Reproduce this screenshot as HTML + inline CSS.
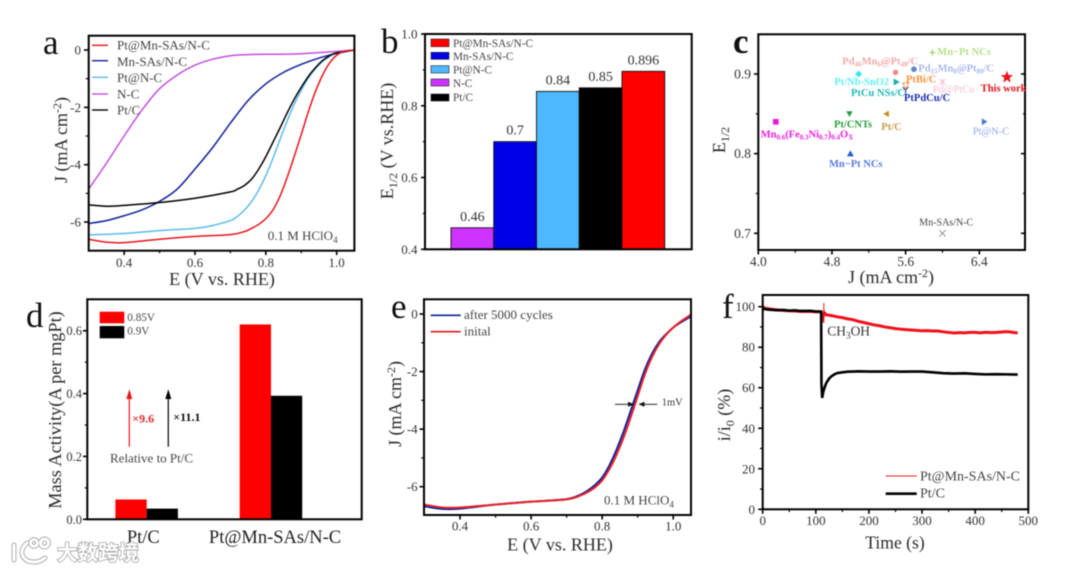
<!DOCTYPE html>
<html lang="en">
<head>
<meta charset="utf-8">
<title>Electrocatalyst performance panels</title>
<style>
html,body{margin:0;padding:0;background:#fff;}
body{width:1080px;height:572px;overflow:hidden;}
svg{display:block;filter:blur(0.55px);}
text{font-family:"Liberation Serif","Noto Serif CJK SC",serif;fill:#2b2b2b;}
.frame{fill:none;stroke:#000;stroke-width:2;}
.letter{font-size:35px;fill:#111;}
.title{font-size:18px;}
.leg{font-size:13px;fill:#444;}
.pt{font-size:10.5px;font-weight:bold;}
</style>
</head>
<body>
<svg id="fig" xmlns="http://www.w3.org/2000/svg" width="1080" height="572" viewBox="0 0 1080 572">
  <rect x="0" y="0" width="1080" height="572" fill="#fff"/>

  <g id="pa">
    <text class="letter" x="43" y="54">a</text>
    <g id="pa-marks"></g>
    <rect class="frame" x="88.7" y="35.7" width="265.7" height="215"/>
    <g id="pa-axes"></g>
    <text class="title" x="222" y="285" text-anchor="middle">E (V vs. RHE)</text>
    <text class="title" transform="translate(67 140) rotate(-90)" text-anchor="middle">J (mA cm<tspan font-size="12" dy="-6">-2</tspan><tspan dy="6">)</tspan></text>
    <g>
      <line x1="92" x2="108" y1="45.3" y2="45.3" stroke="#e8141c" stroke-width="1.4"/>
      <text class="leg" x="117" y="49.5">Pt@Mn-SAs/N-C</text>
      <line x1="92" x2="108" y1="60.7" y2="60.7" stroke="#10209a" stroke-width="1.4"/>
      <text class="leg" x="117" y="66">Mn-SAs/N-C</text>
      <line x1="92" x2="108" y1="77.3" y2="77.3" stroke="#5bbcea" stroke-width="1.4"/>
      <text class="leg" x="117" y="82">Pt@N-C</text>
      <line x1="92" x2="108" y1="94" y2="94" stroke="#c24fe0" stroke-width="1.4"/>
      <text class="leg" x="117" y="98.5">N-C</text>
      <line x1="92" x2="108" y1="110" y2="110" stroke="#000" stroke-width="1.4"/>
      <text class="leg" x="117" y="114.5">Pt/C</text>
    </g>
    <text class="leg" x="267.7" y="240">0.1 M HClO<tspan font-size="9" dy="3">4</tspan></text>
  </g>

  <g id="pb">
    <text class="letter" x="381" y="53">b</text>
    <g id="pb-marks"></g>
    <rect class="frame" x="425" y="34" width="266.7" height="215.3"/>
    <g id="pb-axes"></g>
    <text class="title" transform="translate(393 141) rotate(-90)" text-anchor="middle">E<tspan font-size="12" dy="4">1/2</tspan><tspan dy="-4"> (V vs.RHE)</tspan></text>
    <g>
      <rect x="431" y="39" width="18" height="7.7" fill="#ff0000" stroke="#222" stroke-width=".6"/>
      <text class="leg" style="font-size:11.2px" x="453" y="47">Pt@Mn-SAs/N-C</text>
      <rect x="431" y="52.3" width="18" height="7" fill="#0000e6" stroke="#222" stroke-width=".6"/>
      <text class="leg" style="font-size:11.2px" x="453" y="60">Mn-SAs/N-C</text>
      <rect x="431" y="65.7" width="18" height="7.3" fill="#4db8ff" stroke="#222" stroke-width=".6"/>
      <text class="leg" style="font-size:11.2px" x="453" y="73.5">Pt@N-C</text>
      <rect x="431" y="79" width="18" height="7" fill="#cc33ff" stroke="#222" stroke-width=".6"/>
      <text class="leg" style="font-size:11.2px" x="453" y="87">N-C</text>
      <rect x="431" y="94" width="18" height="7" fill="#000" stroke="#222" stroke-width=".6"/>
      <text class="leg" style="font-size:11.2px" x="453" y="101">Pt/C</text>
    </g>
  </g>

  <g id="pc">
    <text class="letter" font-weight="bold" x="733" y="53">c</text>
    <g id="pc-marks"></g>
    <rect class="frame" x="758.3" y="34.3" width="266.7" height="215.7"/>
    <g id="pc-axes"></g>
    <text class="title" x="891" y="283" text-anchor="middle">J (mA cm<tspan font-size="12" dy="-6">-2</tspan><tspan dy="6">)</tspan></text>
    <text class="title" transform="translate(725 140) rotate(-90)" text-anchor="middle">E<tspan font-size="12" dy="4">1/2</tspan></text>
    <g>
      <text class="pt" style="fill:#f4a9a9" x="842.3" y="64.3">Pd<tspan font-size="7" dy="2">46</tspan><tspan dy="-2">Mn</tspan><tspan font-size="7" dy="2">6</tspan><tspan dy="-2">@Pt</tspan><tspan font-size="7" dy="2">48</tspan><tspan dy="-2">/C</tspan></text>
      <text class="pt" style="fill:#b5e08a" x="937.3" y="55">Mn−Pt NCs</text>
      <text class="pt" style="fill:#a9b8f0" x="918.3" y="71.7">Pd<tspan font-size="7" dy="2">15</tspan><tspan dy="-2">Mn</tspan><tspan font-size="7" dy="2">8</tspan><tspan dy="-2">@Pt</tspan><tspan font-size="7" dy="2">80</tspan><tspan dy="-2">/C</tspan></text>
      <text class="pt" style="fill:#5ff0f0" x="834.3" y="85">Pt/Nb-SnO2</text>
      <text class="pt" style="fill:#f7933d" x="906" y="82.7">PtBi/C</text>
      <text class="pt" style="fill:#f5bcd8;font-weight:normal" x="932.7" y="92.7">Pd@PtCu</text>
      <text class="pt" style="fill:#e0141c" x="980.7" y="91.7">This work</text>
      <text class="pt" style="fill:#22b8b8" x="851" y="96">PtCu NSs/C</text>
      <text class="pt" style="fill:#1c2db0" x="904" y="101">PtPdCu/C</text>
      <text class="pt" style="fill:#2a9d3a" x="834" y="127.3">Pt/CNTs</text>
      <text class="pt" style="fill:#c89a4a" x="881.3" y="130">Pt/C</text>
      <text class="pt" style="fill:#e81fe0" x="760.7" y="137.3">Mn<tspan font-size="7" dy="2">0.6</tspan><tspan dy="-2">(Fe</tspan><tspan font-size="7" dy="2">0.3</tspan><tspan dy="-2">Ni</tspan><tspan font-size="7" dy="2">0.7</tspan><tspan dy="-2">)</tspan><tspan font-size="7" dy="2">0.4</tspan><tspan dy="-2">O</tspan><tspan font-size="7" dy="2">X</tspan></text>
      <text class="pt" style="fill:#8fa8f0;font-weight:normal" x="972.7" y="134.3">Pt@N-C</text>
      <text class="pt" style="fill:#5a7ae0" x="829" y="167">Mn−Pt NCs</text>
      <text class="pt" style="fill:#444;font-weight:normal;font-size:10px" x="919.3" y="225.7">Mn-SAs/N-C</text>
    </g>
  </g>

  <g id="pd">
    <g id="pd-marks"></g>
    <rect class="frame" x="87.3" y="299.3" width="274.4" height="220"/>
    <g id="pd-axes"></g>
    <text class="letter" x="26" y="327">d</text>
    <text class="title" style="font-size:18.3px" transform="translate(61 410) rotate(-90)" text-anchor="middle">Mass Activity(A per mgPt)</text>
    <g>
      <rect x="99.7" y="311.7" width="24.6" height="11.6" fill="#ff0000"/>
      <text class="leg" style="font-size:11.2px" x="127.3" y="321">0.85V</text>
      <rect x="99.7" y="326" width="24.6" height="12.3" fill="#000"/>
      <text class="leg" style="font-size:11.2px" x="127.3" y="334.5">0.9V</text>
    </g>
    <g>
      <line x1="129.3" x2="129.3" y1="446.7" y2="396" stroke="#f0141c" stroke-width="1.2"/>
      <polygon points="129.3,389.3 126.3,399 132.3,399" fill="#f0141c"/>
      <line x1="168.3" x2="168.3" y1="446.7" y2="396" stroke="#000" stroke-width="1.2"/>
      <polygon points="168.3,389.3 165.3,399 171.3,399" fill="#000"/>
      <text style="fill:#e8252c;font-size:12px;font-weight:bold" x="132.3" y="422.3">×9.6</text>
      <text style="fill:#111;font-size:12px;font-weight:bold" x="173.3" y="421">×11.1</text>
      <text class="leg" x="110" y="462.7">Relative to Pt/C</text>
    </g>
  </g>

  <g id="pe">
    <g id="pe-marks"></g>
    <rect class="frame" x="424" y="299.3" width="267" height="215.7"/>
    <g id="pe-axes"></g>
    <text class="letter" x="391" y="318">e</text>
    <text class="title" x="560" y="550.7" text-anchor="middle">E (V vs. RHE)</text>
    <text class="title" transform="translate(401 404) rotate(-90)" text-anchor="middle">J (mA cm<tspan font-size="12" dy="-6">-2</tspan><tspan dy="6">)</tspan></text>
    <g>
      <line x1="430.7" x2="460.7" y1="315.3" y2="315.3" stroke="#10209a" stroke-width="1.6"/>
      <text class="leg" x="464" y="319">after 5000 cycles</text>
      <line x1="430.7" x2="460.7" y1="331.7" y2="331.7" stroke="#e8141c" stroke-width="1.6"/>
      <text class="leg" x="464" y="335.5">inital</text>
    </g>
    <text class="leg" x="604" y="504.3">0.1 M HClO<tspan font-size="9" dy="3">4</tspan></text>
    <g>
      <line x1="615" x2="630" y1="404.3" y2="404.3" stroke="#111" stroke-width=".9"/>
      <polygon points="634.2,404.3 628,401.8 628,406.8" fill="#111"/>
      <line x1="642" x2="657.3" y1="404.3" y2="404.3" stroke="#111" stroke-width=".9"/>
      <polygon points="638.4,404.3 644.5,401.8 644.5,406.8" fill="#111"/>
      <text style="font-size:10.5px;fill:#333" x="661.7" y="405.7">1mV</text>
    </g>
  </g>

  <g id="pf">
    <g id="pf-marks"></g>
    <rect class="frame" x="762.7" y="295" width="265.6" height="214.3"/>
    <g id="pf-axes"></g>
    <text class="letter" x="722" y="318">f</text>
    <text class="title" style="font-size:17.6px" x="895" y="548.3" text-anchor="middle">Time (s)</text>
    <text class="title" transform="translate(730 415) rotate(-90)" text-anchor="middle">i/i<tspan font-size="12" dy="4">0</tspan><tspan dy="-4"> (%)</tspan></text>
    <text style="font-size:13.5px;fill:#333" x="827.3" y="335.7">CH<tspan font-size="9" dy="3">3</tspan><tspan dy="-3">OH</tspan></text>
    <g>
      <line x1="885.7" x2="916.7" y1="476" y2="476" stroke="#e8141c" stroke-width="1"/>
      <text class="leg" style="font-size:14px" x="920" y="480.5">Pt@Mn-SAs/N-C</text>
      <line x1="885.7" x2="916.7" y1="493.7" y2="493.7" stroke="#000" stroke-width="2.6"/>
      <text class="leg" style="font-size:14px" x="920" y="497.5">Pt/C</text>
    </g>
  </g>

  <g>
    <g fill="none" stroke="#b4b4b4" stroke-width="5" stroke-linecap="round">
      <path d="M14 545 V560 M27 543 C20 549 20 557 28 561 C34 563 40 562 45 558"/>
      <circle cx="34" cy="543" r="3.4"/>
      <circle cx="44.5" cy="543" r="4"/>
    </g>
    <g fill="none" stroke="#fff" stroke-width="2.8" stroke-linecap="round">
      <path d="M14 545 V560 M27 543 C20 549 20 557 28 561 C34 563 40 562 45 558"/>
      <circle cx="34" cy="543" r="3.4"/>
      <circle cx="44.5" cy="543" r="4"/>
    </g>
    <text x="57" y="560" style="font-family:'Liberation Sans','Noto Sans CJK SC',sans-serif;font-size:20.5px;font-weight:bold;fill:#fff;stroke:#a8a8a8;stroke-width:1.6px;paint-order:stroke">大数跨境</text>
  </g>
</svg>

<script>
// ---------- Panel a data ----------
const aXTicks = [0.4, 0.6, 0.8, 1.0];
const aXLabels = ['0.4', '0.6', '0.8', '1.0'];
const aYTicks = [0, -2, -4, -6];
const aYLabels = ['0', '-2', '-4', '-6'];
const aPtMnE = [0.3,0.35,0.4,0.5,0.6,0.7,0.74,0.76,0.78,0.8,0.82,0.84,0.86,0.88,0.9,0.92,0.94,0.96,0.98,1.0,1.02,1.05];
const aPtMnJ = [-6.6,-6.7,-6.72,-6.6,-6.5,-6.44,-6.33,-6.22,-6.08,-5.88,-5.58,-5.1,-4.45,-3.72,-2.95,-2.15,-1.45,-0.88,-0.45,-0.18,-0.05,0];
const aPtNE = [0.3,0.4,0.5,0.6,0.65,0.7,0.72,0.74,0.76,0.78,0.8,0.82,0.84,0.86,0.88,0.9,0.92,0.94,0.96,0.98,1.0,1.05];
const aPtNJ = [-6.45,-6.4,-6.3,-6.22,-6.12,-5.95,-5.8,-5.58,-5.28,-4.88,-4.38,-3.78,-3.12,-2.48,-1.9,-1.4,-0.98,-0.65,-0.4,-0.22,-0.1,0];
const aPtCE = [0.3,0.35,0.4,0.5,0.6,0.7,0.72,0.74,0.76,0.78,0.8,0.82,0.84,0.86,0.88,0.9,0.92,0.94,0.96,0.98,1.0,1.05];
const aPtCJ = [-5.4,-5.45,-5.42,-5.32,-5.17,-4.95,-4.85,-4.72,-4.5,-4.15,-3.72,-3.22,-2.72,-2.2,-1.72,-1.3,-0.92,-0.62,-0.37,-0.2,-0.1,0];
const aMnE = [0.3,0.35,0.4,0.45,0.5,0.55,0.6,0.65,0.7,0.75,0.8,0.85,0.9,0.95,1.0,1.05];
const aMnJ = [-6.05,-5.95,-5.78,-5.58,-5.28,-4.85,-4.15,-3.4,-2.55,-1.76,-1.18,-0.78,-0.5,-0.28,-0.12,0];
const aNE = [0.3,0.35,0.4,0.45,0.5,0.55,0.6,0.65,0.7,0.75,0.8,0.9,1.0,1.05];
const aNJ = [-4.85,-3.95,-3.0,-2.1,-1.35,-0.87,-0.53,-0.32,-0.2,-0.16,-0.15,-0.13,-0.05,0];

// ---------- Panel b data ----------
const bCategories = ['N-C', 'Mn-SAs/N-C', 'Pt@N-C', 'Pt/C', 'Pt@Mn-SAs/N-C'];
const bValues = [0.46, 0.7, 0.84, 0.85, 0.896];
const bPrinted = ['0.46', '0.7', '0.84', '0.85', '0.896'];
const bYTicks = [0.4, 0.6, 0.8, 1.0];
const bYLabels = ['0.4', '0.6', '0.8', '1.0'];

// ---------- Panel c data ----------
const cNames = ['this-work','pt-n','mn-sas','pd-ptcu','mn-pt-high','pd15','pd46','pt-nb','ptcu','ptbi','ptpdcu','pt-cnts','ptc','mn-oxide','mn-pt-low'];
const cJ = [6.70,6.45,6.0,6.0,5.89,5.69,5.49,5.09,5.5,5.6,5.6,4.99,5.39,4.19,5.0];
const cE = [0.896,0.84,0.7,0.89,0.927,0.906,0.902,0.9,0.89,0.885,0.88,0.85,0.85,0.84,0.8];
const cXTicks = [4.0, 4.8, 5.6, 6.4];
const cXLabels = ['4.0', '4.8', '5.6', '6.4'];
const cYTicks = [0.7, 0.8, 0.9];
const cYLabels = ['0.7', '0.8', '0.9'];

// ---------- Panel d data ----------
const dCategories = ['Pt/C', 'Pt@Mn-SAs/N-C'];
const dSeries085 = [0.063, 0.62];
const dSeries09 = [0.034, 0.393];
const dYTicks = [0, 0.2, 0.4, 0.6];
const dYLabels = ['0.0', '0.2', '0.4', '0.6'];

// ---------- Panel e data ----------
const eXTicks = [0.4, 0.6, 0.8, 1.0];
const eXLabels = ['0.4', '0.6', '0.8', '1.0'];
const eYTicks = [0, -2, -4, -6];
const eYLabels = ['0', '-2', '-4', '-6'];
const eInitE = [0.3,0.35,0.4,0.5,0.6,0.7,0.74,0.76,0.78,0.8,0.82,0.84,0.86,0.88,0.9,0.92,0.94,0.96,0.98,1.0,1.02,1.05];
const eInitJ = [-6.62,-6.72,-6.72,-6.62,-6.52,-6.44,-6.3,-6.18,-6.02,-5.78,-5.4,-4.9,-4.3,-3.6,-2.85,-2.1,-1.5,-1.05,-0.72,-0.47,-0.27,-0.02];
const eAfterE = [0.3,0.35,0.4,0.5,0.6,0.7,0.74,0.76,0.78,0.8,0.82,0.84,0.86,0.88,0.9,0.92,0.94,0.96,0.98,1.0,1.02,1.05];
const eAfterJ = [-6.68,-6.77,-6.76,-6.62,-6.52,-6.43,-6.27,-6.13,-5.94,-5.68,-5.27,-4.73,-4.1,-3.38,-2.65,-1.94,-1.39,-0.98,-0.7,-0.47,-0.3,-0.08];

// ---------- Panel f data ----------
const fXTicks = [0, 100, 200, 300, 400, 500];
const fXLabels = ['0', '100', '200', '300', '400', '500'];
const fYTicks = [0, 20, 40, 60, 80, 100];
const fYLabels = ['0', '20', '40', '60', '80', '100'];
const fRedT = [0,5,10,20,30,40,50,60,70,80,90,100,110,113,116,120,130,140,150,160,170,180,190,200,210,220,230,240,250,260,270,280,290,300,310,320,330,340,350,360,370,380,390,400,410,420,430,440,450,460,470,480];
const fRedV = [100,99.2,99,98.6,98.4,98.1,98,97.9,97.7,97.7,97.6,97.5,97.5,94.5,97,96,95.6,95,94.6,94,93.6,92.8,92.2,91.6,91,90.6,90,89.6,89.2,88.9,88.7,88.5,88.3,88.1,88.2,88,88,87.6,87.3,87,87.2,87.1,87.3,87.3,87.1,87.4,87.2,87.3,87.5,87.7,87.4,87];
const fBlackT = [0,10,20,30,40,50,60,70,80,90,100,108,110,110.6,112,114,117,120,125,130,135,140,150,160,170,180,200,220,240,260,280,300,320,340,360,380,400,420,440,460,480];
const fBlackV = [99,98.6,98.4,98.2,98.4,98,98.2,97.9,97.9,98,97.6,97.6,97.5,62,55,58,60.5,62.5,64.5,65.8,66.6,67.2,67.6,67.9,68,68.1,68,68,68.1,67.9,68,68,67.6,67.2,67,67.1,66.8,66.6,66.7,66.6,66.5];
const fSpikeT = [115, 115];
const fSpikeV = [92, 101.8];

// ---------- helpers ----------
const NS = 'http://www.w3.org/2000/svg';
function make(parent, tag, attrs, txt) {
  const el = document.createElementNS(NS, tag);
  for (const k in attrs) el.setAttribute(k, attrs[k]);
  if (txt !== undefined) el.textContent = txt;
  parent.appendChild(el);
  return el;
}
function scale(d0, d1, r0, r1) { return v => r0 + (v - d0) * (r1 - r0) / (d1 - d0); }
function smoothPath(xs, ys, sx, sy) {
  const p = xs.map((x, i) => [sx(x), sy(ys[i])]);
  let d = 'M' + p[0][0].toFixed(2) + ' ' + p[0][1].toFixed(2);
  for (let i = 0; i < p.length - 1; i++) {
    const a = p[Math.max(i - 1, 0)], b = p[i], c = p[i + 1], e = p[Math.min(i + 2, p.length - 1)];
    const c1x = b[0] + (c[0] - a[0]) / 6, c1y = b[1] + (c[1] - a[1]) / 6;
    const c2x = c[0] - (e[0] - b[0]) / 6, c2y = c[1] - (e[1] - b[1]) / 6;
    d += 'C' + c1x.toFixed(2) + ' ' + c1y.toFixed(2) + ' ' + c2x.toFixed(2) + ' ' + c2y.toFixed(2) + ' ' + c[0].toFixed(2) + ' ' + c[1].toFixed(2);
  }
  return d;
}
function straightPath(xs, ys, sx, sy) {
  return xs.map((x, i) => (i ? 'L' : 'M') + sx(x).toFixed(2) + ' ' + sy(ys[i]).toFixed(2)).join('');
}
function drawXTicks(g, prefix, ticks, labels, sx, yBase, labelY, size) {
  ticks.forEach((t, i) => {
    const tick = make(g, 'line', {x1: sx(t), x2: sx(t), y1: yBase, y2: yBase + 4, stroke: '#000', 'stroke-width': 1.6});
    
    
    const lab = make(g, 'text', {x: sx(t), y: labelY, 'text-anchor': 'middle', style: 'font-size:' + size + 'px;fill:#333'}, labels[i]);
    
    
  });
}
function drawYTicks(g, prefix, ticks, labels, sy, xBase, labelX, size) {
  ticks.forEach((t, i) => {
    const tick = make(g, 'line', {x1: xBase - 4, x2: xBase, y1: sy(t), y2: sy(t), stroke: '#000', 'stroke-width': 1.6});
    
    
    const lab = make(g, 'text', {x: labelX, y: sy(t) + 4.5, 'text-anchor': 'end', style: 'font-size:' + size + 'px;fill:#333'}, labels[i]);
    
    
  });
}
function drawMinorX(g, prefix, ticks, sx, yBase) {
  ticks.forEach(t => {
    const m = make(g, 'line', {x1: sx(t), x2: sx(t), y1: yBase, y2: yBase + 2.2, stroke: '#000', 'stroke-width': 1.2});
    
    
  });
}
function drawMinorY(g, prefix, ticks, sy, xBase) {
  ticks.forEach(t => {
    const m = make(g, 'line', {x1: xBase - 2.2, x2: xBase, y1: sy(t), y2: sy(t), stroke: '#000', 'stroke-width': 1.2});
    
    
  });
}
function midpoints(arr) { return arr.slice(1).map((v, i) => (v + arr[i]) / 2); }

// ---------- Panel a ----------
const ax = scale(0.3, 1.05, 88.7, 354.4), ay = scale(0, -7, 50, 250.7);
const paMarks = document.getElementById('pa-marks'), paAxes = document.getElementById('pa-axes');
[['curve-n-c', aNE, aNJ, '#c24fe0'], ['curve-mn-sas', aMnE, aMnJ, '#10209a'], ['curve-pt-n', aPtNE, aPtNJ, '#5bbcea'], ['curve-pt-c', aPtCE, aPtCJ, '#000'], ['curve-pt-mn', aPtMnE, aPtMnJ, '#e8141c']].forEach(s => {
  const c = make(paMarks, 'path', {d: smoothPath(s[1], s[2], ax, ay), fill: 'none', stroke: s[3], 'stroke-width': 1.5});
  
  
});
drawXTicks(paAxes, 'a', aXTicks, aXLabels, ax, 251, 267, 13);
drawYTicks(paAxes, 'a', aYTicks, aYLabels, ay, 88, 81, 13);
drawMinorX(paAxes, 'a', midpoints(aXTicks), ax, 251);
drawMinorY(paAxes, 'a', midpoints(aYTicks), ay, 88);

// ---------- Panel b ----------
const by = scale(0.4, 1.0, 249.3, 34);
const bBarX = i => 451 + i * 42.75;
const bFills = {'N-C': '#cc33ff', 'Mn-SAs/N-C': '#0000e6', 'Pt@N-C': '#4db8ff', 'Pt/C': '#000', 'Pt@Mn-SAs/N-C': '#ff0000'};
const pbMarks = document.getElementById('pb-marks'), pbAxes = document.getElementById('pb-axes');
bCategories.forEach((c, i) => {
  const r = make(pbMarks, 'rect', {x: bBarX(i), y: by(bValues[i]), width: 42.75, height: by(0.4) - by(bValues[i]), fill: bFills[c], stroke: '#111', 'stroke-width': 0.9});
  
  
  const t = make(pbMarks, 'text', {x: bBarX(i) + 21.4, y: by(bValues[i]) - 7, 'text-anchor': 'middle', style: 'font-size:14px;fill:#333'}, bPrinted[i]);
  
  
});
drawYTicks(pbAxes, 'b', bYTicks, bYLabels, by, 425, 417.5, 13);
drawMinorY(pbAxes, 'b', midpoints(bYTicks), by, 425);

// ---------- Panel c ----------
const cx = scale(4.0, 6.4, 758.3, 979.3), cy = scale(0.7, 0.9, 233.3, 74);
const cStyle = {
  'this-work': ['star', '#e8141c', 6.5], 'pt-n': ['flag', '#4a78d8', 3.5], 'mn-sas': ['cross', '#777', 3.2],
  'pd-ptcu': ['aster', '#f5bcd8', 3.2], 'mn-pt-high': ['plus', '#8cc850', 3], 'pd15': ['circle', '#5f86c8', 2.8],
  'pd46': ['hex', '#f08a8a', 3], 'pt-nb': ['diamond', '#30e8e8', 3.4], 'ptcu': ['right', '#10b0b0', 3.4],
  'ptbi': ['down-open', '#f7933d', 3], 'ptpdcu': ['y', '#2a3ab0', 3], 'pt-cnts': ['down', '#2a9d3a', 3.2],
  'ptc': ['left', '#c8901e', 3.2], 'mn-oxide': ['square', '#f010e0', 2.8], 'mn-pt-low': ['up', '#2060d0', 3.4]
};
function drawMarker(g, shape, x, y, color, r) {
  if (shape === 'square') return make(g, 'rect', {x: x - r, y: y - r, width: 2 * r, height: 2 * r, fill: color});
  if (shape === 'circle') return make(g, 'circle', {cx: x, cy: y, r: r, fill: color});
  if (shape === 'cross') return make(g, 'path', {d: `M${x-r} ${y-r}L${x+r} ${y+r}M${x-r} ${y+r}L${x+r} ${y-r}`, stroke: color, 'stroke-width': .8, fill: 'none'});
  if (shape === 'plus') return make(g, 'path', {d: `M${x-r} ${y}H${x+r}M${x} ${y-r}V${y+r}`, stroke: color, 'stroke-width': 1, fill: 'none'});
  if (shape === 'aster') return make(g, 'path', {d: `M${x-r} ${y-r}L${x+r} ${y+r}M${x-r} ${y+r}L${x+r} ${y-r}M${x} ${y-r}V${y+r}`, stroke: color, 'stroke-width': .9, fill: 'none'});
  if (shape === 'y') return make(g, 'path', {d: `M${x-r} ${y-r}L${x} ${y}L${x+r} ${y-r}M${x} ${y}V${y+r+1}`, stroke: color, 'stroke-width': 1, fill: 'none'});
  if (shape === 'down-open') return make(g, 'path', {d: `M${x-r} ${y-r}H${x+r}L${x} ${y+r}Z`, stroke: color, 'stroke-width': .9, fill: 'none'});
  let pts;
  if (shape === 'up') pts = [[x, y - r], [x + r, y + r * .8], [x - r, y + r * .8]];
  if (shape === 'down') pts = [[x, y + r], [x + r, y - r * .8], [x - r, y - r * .8]];
  if (shape === 'left') pts = [[x - r, y], [x + r * .8, y - r], [x + r * .8, y + r]];
  if (shape === 'right') pts = [[x + r, y], [x - r * .8, y - r], [x - r * .8, y + r]];
  if (shape === 'flag') pts = [[x + r, y], [x - r * .6, y - r], [x - r * .6, y + r]];
  if (shape === 'diamond') pts = [[x, y - r], [x + r, y], [x, y + r], [x - r, y]];
  if (shape === 'hex') pts = [0, 1, 2, 3, 4, 5].map(k => [x + r * Math.sin(k * Math.PI / 3), y - r * Math.cos(k * Math.PI / 3)]);
  if (shape === 'star') pts = [0, 1, 2, 3, 4, 5, 6, 7, 8, 9].map(k => { const q = k % 2 ? r * .42 : r; return [x + q * Math.sin(k * Math.PI / 5), y - q * Math.cos(k * Math.PI / 5)]; });
  return make(g, 'polygon', {points: pts.map(p => p[0].toFixed(2) + ',' + p[1].toFixed(2)).join(' '), fill: color});
}
const pcMarks = document.getElementById('pc-marks'), pcAxes = document.getElementById('pc-axes');
cNames.forEach((n, i) => {
  const st = cStyle[n];
  const m = drawMarker(pcMarks, st[0], cx(cJ[i]), cy(cE[i]), st[1], st[2]);
  
  
});
drawXTicks(pcAxes, 'c', cXTicks, cXLabels, cx, 250.5, 266, 13.5);
drawYTicks(pcAxes, 'c', cYTicks, cYLabels, cy, 758, 751, 13.5);
drawMinorX(pcAxes, 'c', midpoints(cXTicks), cx, 250.5);
drawMinorY(pcAxes, 'c', midpoints(cYTicks), cy, 758);
cYTicks.forEach(t => {
  const rt = make(pcAxes, 'line', {x1: 1021, x2: 1025, y1: cy(t), y2: cy(t), stroke: '#000', 'stroke-width': 1.6});
  
  
});
midpoints(cYTicks).forEach(t => {
  const rm = make(pcAxes, 'line', {x1: 1023, x2: 1025, y1: cy(t), y2: cy(t), stroke: '#000', 'stroke-width': 1.2});
  
  
});

// ---------- Panel d ----------
const dy = scale(0, 0.7, 519.3, 299.3);
const dGroup = i => 146.7 + i * 124.3;
const pdMarks = document.getElementById('pd-marks'), pdAxes = document.getElementById('pd-axes');
dCategories.forEach((c, i) => {
  const r1 = make(pdMarks, 'rect', {x: dGroup(i) - 31.3, y: dy(dSeries085[i]), width: 31.3, height: dy(0) - dy(dSeries085[i]), fill: '#ff0000'});
  
  
  const r2 = make(pdMarks, 'rect', {x: dGroup(i), y: dy(dSeries09[i]), width: 31.2, height: dy(0) - dy(dSeries09[i]), fill: '#000'});
  
  
  const l = make(pdAxes, 'text', {x: i === 0 ? dGroup(i) - 3.4 : dGroup(i) + 4, y: 543, 'text-anchor': 'middle', style: 'font-size:18.5px;fill:#222'}, c);
  
  
});
drawYTicks(pdAxes, 'd', dYTicks, dYLabels, dy, 87, 82, 12.5);
drawMinorY(pdAxes, 'd', midpoints(dYTicks), dy, 87);

// ---------- Panel e ----------
const ex = scale(0.3, 1.05, 424.5, 691), ey = scale(0, -7, 314, 515.5);
const peMarks = document.getElementById('pe-marks'), peAxes = document.getElementById('pe-axes');
const eAfter = make(peMarks, 'path', {d: smoothPath(eAfterE, eAfterJ, ex, ey), fill: 'none', stroke: '#10209a', 'stroke-width': 2});


const eInit = make(peMarks, 'path', {d: smoothPath(eInitE, eInitJ, ex, ey), fill: 'none', stroke: '#ea2028', 'stroke-width': 2});


drawXTicks(peAxes, 'e', eXTicks, eXLabels, ex, 515.5, 530.7, 13);
drawYTicks(peAxes, 'e', eYTicks, eYLabels, ey, 423.5, 417.7, 13);
drawMinorX(peAxes, 'e', midpoints(eXTicks), ex, 515.5);
drawMinorY(peAxes, 'e', midpoints(eYTicks), ey, 423.5);

// ---------- Panel f ----------
const fx = scale(0, 500, 762.7, 1028.3), fy = scale(0, 100, 509.3, 306.7);
const pfMarks = document.getElementById('pf-marks'), pfAxes = document.getElementById('pf-axes');
const fRed = make(pfMarks, 'path', {d: straightPath(fRedT, fRedV, fx, fy), fill: 'none', stroke: '#f0101a', 'stroke-width': 3});


const fSpike = make(pfMarks, 'path', {d: straightPath(fSpikeT, fSpikeV, fx, fy), fill: 'none', stroke: '#f0101a', 'stroke-width': 1});


const fBlack = make(pfMarks, 'path', {d: straightPath(fBlackT, fBlackV, fx, fy), fill: 'none', stroke: '#000', 'stroke-width': 2.6});


drawXTicks(pfAxes, 'f', fXTicks, fXLabels, fx, 509.8, 525, 13);
drawYTicks(pfAxes, 'f', fYTicks, fYLabels, fy, 762.2, 755, 13);
drawMinorX(pfAxes, 'f', midpoints(fXTicks), fx, 509.8);
drawMinorY(pfAxes, 'f', midpoints(fYTicks), fy, 762.2);
</script>
</body>
</html>
